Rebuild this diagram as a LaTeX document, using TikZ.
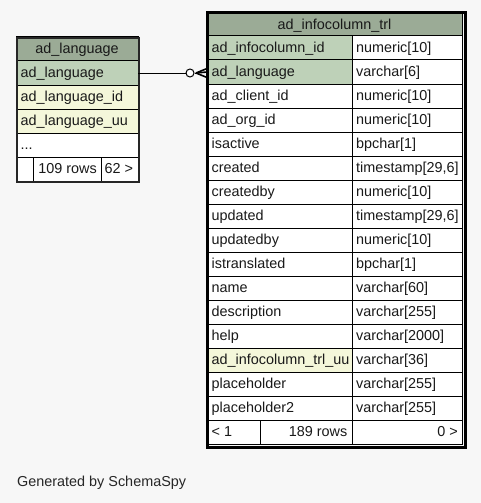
\documentclass[tikz,border=0pt]{standalone}
\usepackage{fontspec}
\setmainfont{Liberation Sans}
\definecolor{bgc}{HTML}{F7F7F7}
\definecolor{hdr}{HTML}{9BAB96}
\definecolor{pkc}{HTML}{BED1B8}
\definecolor{idx}{HTML}{F4F7DA}
\begin{document}
\begin{tikzpicture}[x=1pt,y=-1pt,
  cell/.style={draw=black, line width=1pt, minimum height=24pt, inner sep=0pt, outer sep=0pt, anchor=north west, fill=white},
  txt/.style={font=\fontsize{14.4}{16}\selectfont, inner sep=0pt, text height=10.5pt, text depth=3pt, text=black!90, yshift=-0.8pt},
  ltxt/.style={txt, anchor=west},
  rtxt/.style={txt, anchor=east}]
\fill[bgc] (0,0) rectangle (481,503);
\useasboundingbox (0,0) rectangle (481,503);

% ---------- left table ----------
\node[cell, fill=hdr, minimum width=122pt] (lh) at (16,37) {};
\node[txt] at (lh.center) {ad\_language};
\node[cell, fill=pkc, minimum width=122pt] (l1) at (16,61) {};
\node[ltxt] at ([xshift=4.5pt]l1.west) {ad\_language};
\node[cell, fill=idx, minimum width=122pt] (l2) at (16,85) {};
\node[ltxt] at ([xshift=4.5pt]l2.west) {ad\_language\_id};
\node[cell, fill=idx, minimum width=122pt] (l3) at (16,109) {};
\node[ltxt] at ([xshift=4.5pt]l3.west) {ad\_language\_uu};
\node[cell, minimum width=122pt] (l4) at (16,133) {};
\node[ltxt] at ([xshift=4.5pt]l4.west) {...};
\node[cell, minimum width=17pt] (lf1) at (16,157) {};
\node[cell, minimum width=68pt] (lf2) at (33,157) {};
\node[rtxt] at ([xshift=-4pt]lf2.east) {109 rows};
\node[cell, minimum width=37pt] (lf3) at (101,157) {};
\node[ltxt] at ([xshift=3.5pt]lf3.west) {62 >};
\node[draw=black!85, line width=1.6pt, minimum width=122pt, minimum height=144pt, inner sep=0pt, anchor=north west] (ltab) at (16,37) {};

% ---------- right table ----------
\node[cell, fill=hdr, minimum width=255pt, minimum height=23pt] (rh) at (207,13) {};
\node[txt] at (rh.center) {ad\_infocolumn\_trl};
\foreach \n/\t/\c [count=\k] in {
  ad\_infocolumn\_id/numeric[10]/pkc,
  ad\_language/varchar[6]/pkc,
  ad\_client\_id/numeric[10]/white,
  ad\_org\_id/numeric[10]/white,
  isactive/bpchar[1]/white,
  created/{timestamp[29,6]}/white,
  createdby/numeric[10]/white,
  updated/{timestamp[29,6]}/white,
  updatedby/numeric[10]/white,
  istranslated/bpchar[1]/white,
  name/varchar[60]/white,
  description/varchar[255]/white,
  help/varchar[2000]/white,
  ad\_infocolumn\_trl\_uu/varchar[36]/idx,
  placeholder/varchar[255]/white,
  placeholder2/varchar[255]/white}{
  \node[cell, fill=\c, minimum width=145pt] (rn\k) at (207,{36+24*(\k-1)}) {};
  \node[ltxt] at ([xshift=4.5pt]rn\k.west) {\n};
  \node[cell, minimum width=110pt] (rt\k) at (352,{36+24*(\k-1)}) {};
  \node[ltxt] at ([xshift=4pt]rt\k.west) {\t};
}
\node[cell, minimum width=53pt] (rf1) at (207,420) {};
\node[ltxt] at ([xshift=4.5pt]rf1.west) {< 1};
\node[cell, minimum width=92pt] (rf2) at (260,420) {};
\node[rtxt] at ([xshift=-4.5pt]rf2.east) {189 rows};
\node[cell, minimum width=110pt] (rf3) at (352,420) {};
\node[rtxt] at ([xshift=-4pt]rf3.east) {0 >};
\node[draw=black, line width=3pt, minimum width=258pt, minimum height=434pt, inner sep=0pt, anchor=north west] (rtab) at (205.5,11.5) {};

% ---------- connector ----------
\node[circle, draw=black, fill=white, line width=1pt, minimum size=8pt, inner sep=0pt] (circ) at (190,73) {};
\coordinate (cf) at (196,73);
\draw[line width=1pt] (l1.east) -- (circ.west);
\draw[line width=1pt] (circ.east) -- (cf);
\draw[line width=1.6pt] (cf) -- (rn2.west |- 0,68.5);
\draw[line width=1.6pt] (cf) -- (rn2.west);
\draw[line width=1.6pt] (cf) -- (rn2.west |- 0,77.5);

\node[ltxt, text=black!85] (gen) at (17,482) {Generated by SchemaSpy};
\end{tikzpicture}
\end{document}
